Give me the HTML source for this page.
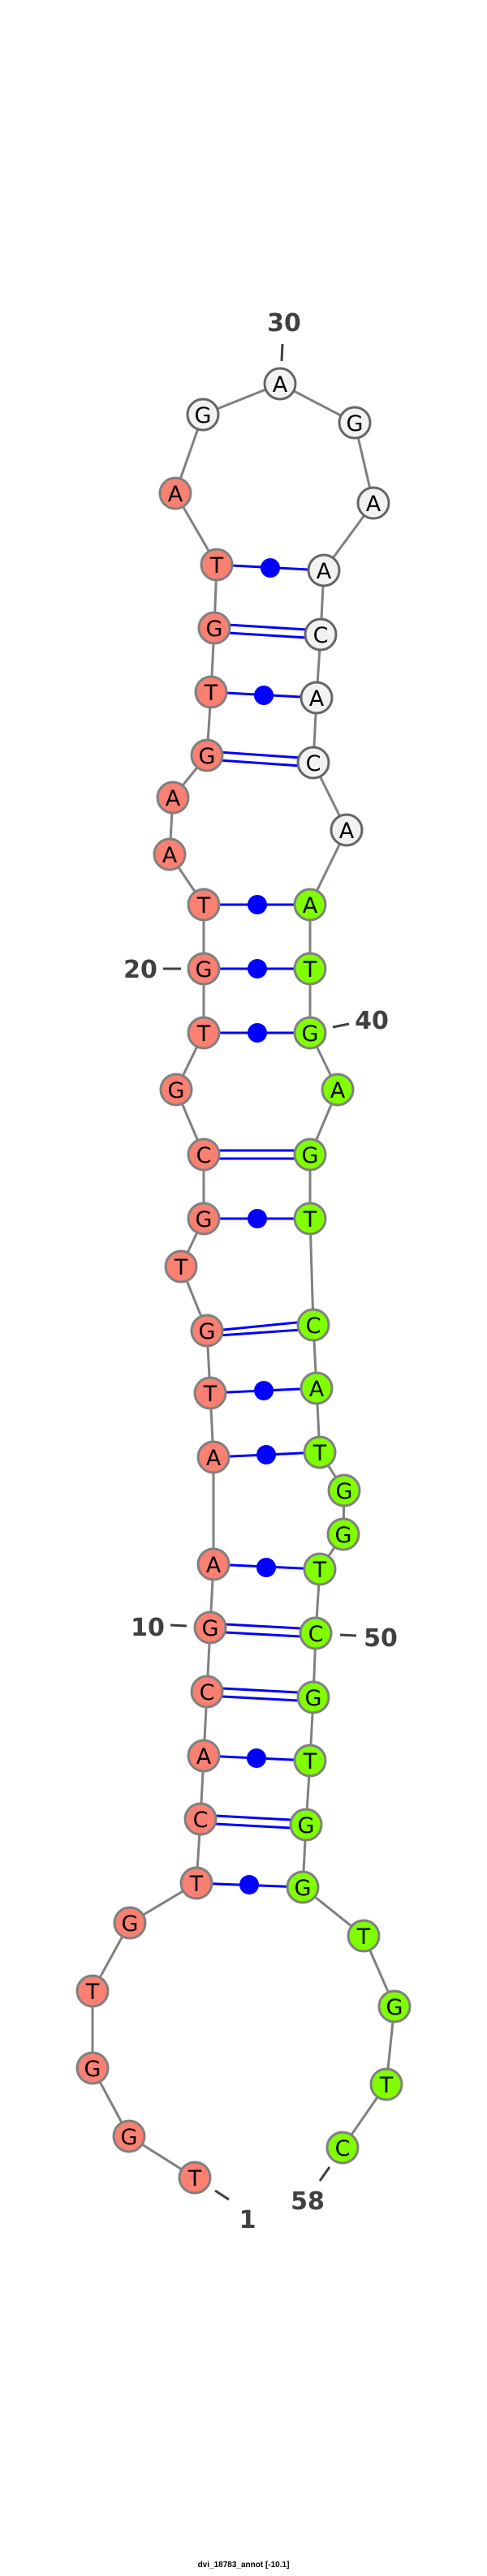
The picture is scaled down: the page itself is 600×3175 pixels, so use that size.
<!DOCTYPE html>
<html><head><meta charset="utf-8"><style>
html,body{margin:0;padding:0;background:#fff;}
svg{display:block;}
.n text{font-family:"DejaVu Sans","Liberation Sans",sans-serif;font-size:27px;text-anchor:middle;fill:#000;}
.lab{font-family:"DejaVu Sans","Liberation Sans",sans-serif;font-size:30px;font-weight:bold;fill:#404040;text-anchor:middle;}
</style></head><body>
<svg width="600" height="3175" viewBox="0 0 600 3175" xmlns="http://www.w3.org/2000/svg">
<rect width="600" height="3175" fill="#fff"/>
<polyline fill="none" stroke="#808080" stroke-width="3" points="240,2684 159,2633 114,2549 114,2454 160,2370 242,2321 247,2242 251,2164 255,2085 259,2006 263,1928 263,1796 259,1717 255,1640 223,1561 251,1502 251,1423 217,1343 251,1273 251,1194 251,1115 209,1053 213,983 255,931 260,853 264,774 267,696 216,608 250,511 345,473 437,521 460,620 399,703 395,782 390,860 386,940 427,1023 382,1115 382,1194 382,1273 416,1343 382,1423 382,1502 386,1633 390,1711 394,1790 424,1837 423,1891 394,1934 389,2013 386,2092 382,2170 377,2249 373,2326 448,2386 486,2473 476,2569 422,2647"/>
<g stroke="#0000ff" stroke-width="3">
<line x1="267" y1="696" x2="399" y2="703"/>
<line x1="260" y1="853" x2="390" y2="860"/>
<line x1="251" y1="1115" x2="382" y2="1115"/>
<line x1="251" y1="1194" x2="382" y2="1194"/>
<line x1="251" y1="1273" x2="382" y2="1273"/>
<line x1="251" y1="1502" x2="382" y2="1502"/>
<line x1="259" y1="1717" x2="390" y2="1711"/>
<line x1="263" y1="1796" x2="394" y2="1790"/>
<line x1="263" y1="1928" x2="394" y2="1934"/>
<line x1="251" y1="2164" x2="382" y2="2170"/>
<line x1="242" y1="2321" x2="373" y2="2326"/>
<line x1="264" y1="769" x2="395" y2="777"/><line x1="264" y1="779" x2="395" y2="787"/>
<line x1="255" y1="926" x2="386" y2="935"/><line x1="255" y1="936" x2="386" y2="945"/>
<line x1="251" y1="1418" x2="382" y2="1418"/><line x1="251" y1="1428" x2="382" y2="1428"/>
<line x1="255" y1="1641" x2="386" y2="1628"/><line x1="255" y1="1647" x2="386" y2="1638"/>
<line x1="259" y1="2001" x2="389" y2="2008"/><line x1="259" y1="2011" x2="389" y2="2018"/>
<line x1="255" y1="2080" x2="386" y2="2087"/><line x1="255" y1="2090" x2="386" y2="2097"/>
<line x1="247" y1="2237" x2="377" y2="2244"/><line x1="247" y1="2247" x2="377" y2="2254"/>
</g>
<g fill="#0000ff">
<circle cx="333" cy="700" r="12"/><circle cx="325" cy="857" r="12"/>
<circle cx="317" cy="1115" r="12"/><circle cx="317" cy="1194" r="12"/><circle cx="317" cy="1273" r="12"/>
<circle cx="317" cy="1502" r="12"/><circle cx="325" cy="1714" r="12"/><circle cx="328" cy="1793" r="12"/>
<circle cx="328" cy="1932" r="12"/><circle cx="316" cy="2167" r="12"/><circle cx="307" cy="2323" r="12"/>
</g>
<g stroke="#404040" stroke-width="3">
<line x1="348" y1="424" x2="347" y2="445"/>
<line x1="201" y1="1194" x2="223" y2="1194"/>
<line x1="410" y1="1266" x2="430" y2="1262"/>
<line x1="210" y1="2003" x2="230" y2="2004"/>
<line x1="419" y1="2015" x2="439" y2="2016"/>
<line x1="265" y1="2700" x2="282" y2="2711"/>
<line x1="406" y1="2671" x2="394" y2="2688"/>
</g>
<text class="lab" x="350" y="408">30</text>
<text class="lab" x="173" y="1205">20</text>
<text class="lab" x="458" y="1268">40</text>
<text class="lab" x="182" y="2016">10</text>
<text class="lab" x="469" y="2029">50</text>
<text class="lab" x="305" y="2746">1</text>
<text class="lab" x="379" y="2723">58</text>
<g class="n" stroke-width="3">
<g fill="#fa8072" stroke="#808080">
<circle cx="240" cy="2684" r="19"/><circle cx="159" cy="2633" r="19"/><circle cx="114" cy="2549" r="19"/><circle cx="114" cy="2454" r="19"/><circle cx="160" cy="2370" r="19"/><circle cx="242" cy="2321" r="19"/><circle cx="247" cy="2242" r="19"/><circle cx="251" cy="2164" r="19"/><circle cx="255" cy="2085" r="19"/><circle cx="259" cy="2006" r="19"/><circle cx="263" cy="1928" r="19"/><circle cx="263" cy="1796" r="19"/><circle cx="259" cy="1717" r="19"/><circle cx="255" cy="1640" r="19"/><circle cx="223" cy="1561" r="19"/><circle cx="251" cy="1502" r="19"/><circle cx="251" cy="1423" r="19"/><circle cx="217" cy="1343" r="19"/><circle cx="251" cy="1273" r="19"/><circle cx="251" cy="1194" r="19"/><circle cx="251" cy="1115" r="19"/><circle cx="209" cy="1053" r="19"/><circle cx="213" cy="983" r="19"/><circle cx="255" cy="931" r="19"/><circle cx="260" cy="853" r="19"/><circle cx="264" cy="774" r="19"/><circle cx="267" cy="696" r="19"/><circle cx="216" cy="608" r="19"/>
</g>
<g fill="#f2f2f2" stroke="#666">
<circle cx="250" cy="511" r="19"/><circle cx="345" cy="473" r="19"/><circle cx="437" cy="521" r="19"/><circle cx="460" cy="620" r="19"/><circle cx="399" cy="703" r="19"/><circle cx="395" cy="782" r="19"/><circle cx="390" cy="860" r="19"/><circle cx="386" cy="940" r="19"/><circle cx="427" cy="1023" r="19"/>
</g>
<g fill="#7fff00" stroke="#808080">
<circle cx="382" cy="1115" r="19"/><circle cx="382" cy="1194" r="19"/><circle cx="382" cy="1273" r="19"/><circle cx="416" cy="1343" r="19"/><circle cx="382" cy="1423" r="19"/><circle cx="382" cy="1502" r="19"/><circle cx="386" cy="1633" r="19"/><circle cx="390" cy="1711" r="19"/><circle cx="394" cy="1790" r="19"/><circle cx="424" cy="1837" r="19"/><circle cx="423" cy="1891" r="19"/><circle cx="394" cy="1934" r="19"/><circle cx="389" cy="2013" r="19"/><circle cx="386" cy="2092" r="19"/><circle cx="382" cy="2170" r="19"/><circle cx="377" cy="2249" r="19"/><circle cx="373" cy="2326" r="19"/><circle cx="448" cy="2386" r="19"/><circle cx="486" cy="2473" r="19"/><circle cx="476" cy="2569" r="19"/><circle cx="422" cy="2647" r="19"/>
</g>
<text x="240" y="2694">T</text><text x="159" y="2643">G</text><text x="114" y="2559">G</text><text x="114" y="2464">T</text><text x="160" y="2380">G</text><text x="242" y="2331">T</text><text x="247" y="2252">C</text><text x="251" y="2174">A</text><text x="255" y="2095">C</text><text x="259" y="2016">G</text><text x="263" y="1938">A</text><text x="263" y="1806">A</text><text x="259" y="1727">T</text><text x="255" y="1650">G</text><text x="223" y="1571">T</text><text x="251" y="1512">G</text><text x="251" y="1433">C</text><text x="217" y="1353">G</text><text x="251" y="1283">T</text><text x="251" y="1204">G</text><text x="251" y="1125">T</text><text x="209" y="1063">A</text><text x="213" y="993">A</text><text x="255" y="941">G</text><text x="260" y="863">T</text><text x="264" y="784">G</text><text x="267" y="706">T</text><text x="216" y="618">A</text>
<text x="250" y="521">G</text><text x="345" y="483">A</text><text x="437" y="531">G</text><text x="460" y="630">A</text><text x="399" y="713">A</text><text x="395" y="792">C</text><text x="390" y="870">A</text><text x="386" y="950">C</text><text x="427" y="1033">A</text>
<text x="382" y="1125">A</text><text x="382" y="1204">T</text><text x="382" y="1283">G</text><text x="416" y="1353">A</text><text x="382" y="1433">G</text><text x="382" y="1512">T</text><text x="386" y="1643">C</text><text x="390" y="1721">A</text><text x="394" y="1800">T</text><text x="424" y="1847">G</text><text x="423" y="1901">G</text><text x="394" y="1944">T</text><text x="389" y="2023">C</text><text x="386" y="2102">G</text><text x="382" y="2180">T</text><text x="377" y="2259">G</text><text x="373" y="2336">G</text><text x="448" y="2396">T</text><text x="486" y="2483">G</text><text x="476" y="2579">T</text><text x="422" y="2657">C</text>
</g>
<text x="300" y="3164" font-family="Liberation Sans, sans-serif" font-size="10" font-weight="bold" text-anchor="middle" fill="#000">dvi_18783_annot [-10.1]</text>
</svg>
</body></html>
